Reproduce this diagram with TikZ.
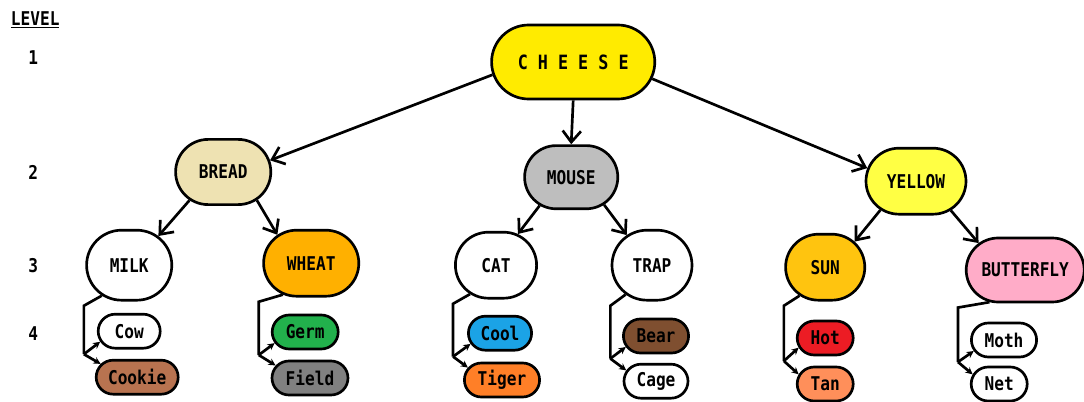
\documentclass[tikz,border=0pt]{standalone}
\usepackage{fontspec}
\usetikzlibrary{shapes.misc,arrows.meta,calc}
\newfontfamily\lbl{DejaVu Sans Mono}[FakeStretch=0.85]
\definecolor{cheeseC}{HTML}{FFEB00}
\definecolor{breadC}{HTML}{EEE2B2}
\definecolor{mouseC}{HTML}{BEBEBE}
\definecolor{yellowC}{HTML}{FFFF44}
\definecolor{wheatC}{HTML}{FFB000}
\definecolor{sunC}{HTML}{FFC40F}
\definecolor{flyC}{HTML}{FFACC8}
\definecolor{cookieC}{HTML}{B87350}
\definecolor{germC}{HTML}{22B14C}
\definecolor{fieldC}{HTML}{808080}
\definecolor{coolC}{HTML}{1BA3E6}
\definecolor{tigerC}{HTML}{FF7F27}
\definecolor{bearC}{HTML}{7F4F30}
\definecolor{hotC}{HTML}{EC1C24}
\definecolor{tanC}{HTML}{FF8F5A}

\begin{document}
\begin{tikzpicture}[x=1cm, y=-1cm,
    txt/.style={font=\lbl\bfseries\fontsize{13.5}{15}\selectfont},
    box/.style={txt, draw, rounded rectangle, line width=1.9pt, inner sep=0pt},
    leaf/.style={box, minimum height=0.85cm},
    down/.style={line width=1.9pt, -{Straight Barb[length=8pt,width=13pt]}},
    fork/.style={line width=1.9pt, -{Stealth[length=5pt,width=5pt]}}]
    \useasboundingbox (0,0) rectangle (27.1,10.05);
    % level column
    \node[txt] (lvl) at (0.88,0.5) {\underline{LEVEL}};
    \node[txt] (l1) at (0.83,1.45) {1};
    \node[txt] (l2) at (0.83,4.3) {2};
    \node[txt] (l3) at (0.83,6.63) {3};
    \node[txt] (l4) at (0.83,8.33) {4};
    % levels 1 and 2
    \node[box, fill=cheeseC, minimum width=4.08cm, minimum height=1.85cm] (cheese) at (14.33,1.55) {\fontsize{14}{16}\selectfont C H E E S E};
    \node[box, fill=breadC, minimum width=2.38cm, minimum height=1.63cm] (bread) at (5.58,4.3) {BREAD};
    \node[box, fill=mouseC, minimum width=2.33cm, minimum height=1.58cm] (mouse) at (14.28,4.43) {MOUSE};
    \node[box, fill=yellowC, minimum width=2.5cm, minimum height=1.65cm] (yellow) at (22.9,4.53) {YELLOW};
    % level 3
    \node[box, fill=white, minimum width=2.13cm, minimum height=1.75cm] (milk) at (3.23,6.63) {MILK};
    \node[box, fill=wheatC, minimum width=2.38cm, minimum height=1.65cm] (wheat) at (7.78,6.58) {WHEAT};
    \node[box, fill=white, minimum width=2.03cm, minimum height=1.65cm] (cat) at (12.4,6.63) {CAT};
    \node[box, fill=white, minimum width=2.0cm, minimum height=1.75cm] (trap) at (16.3,6.63) {TRAP};
    \node[box, fill=sunC, minimum width=1.98cm, minimum height=1.65cm] (sun) at (20.63,6.68) {SUN};
    \node[box, fill=flyC, minimum width=2.95cm, minimum height=1.6cm] (fly) at (25.63,6.75) {BUTTERFLY};
    % level 4
    \node[leaf, fill=white, minimum width=1.55cm] (cow) at (3.23,8.28) {Cow};
    \node[leaf, fill=cookieC, minimum width=2.05cm] (cookie) at (3.43,9.43) {Cookie};
    \node[leaf, fill=germC, minimum width=1.65cm] (germ) at (7.63,8.3) {Germ};
    \node[leaf, fill=fieldC, minimum width=1.9cm] (field) at (7.75,9.45) {Field};
    \node[leaf, fill=coolC, minimum width=1.58cm] (cool) at (12.5,8.33) {Cool};
    \node[leaf, fill=tigerC, minimum width=1.88cm] (tiger) at (12.55,9.5) {Tiger};
    \node[leaf, fill=bearC, minimum width=1.63cm] (bear) at (16.4,8.4) {Bear};
    \node[leaf, fill=white, minimum width=1.6cm] (cage) at (16.4,9.53) {Cage};
    \node[leaf, fill=hotC, minimum width=1.4cm] (hot) at (20.63,8.45) {Hot};
    \node[leaf, fill=tanC, minimum width=1.4cm] (tan) at (20.63,9.6) {Tan};
    \node[leaf, fill=white, minimum width=1.63cm] (moth) at (25.1,8.5) {Moth};
    \node[leaf, fill=white, minimum width=1.4cm] (net) at (24.98,9.6) {Net};
    % tree arrows
    \draw[down] (cheese.189) -- (bread.14);
    \draw[down] (cheese.south) -- (mouse.north);
    \draw[down] (cheese.-12) -- (yellow.165);
    \draw[down] (bread.220) -- (milk.45);
    \draw[down] (bread.-40) -- (wheat.140);
    \draw[down] (mouse.222) -- (cat.55);
    \draw[down] (mouse.-40) -- (trap.130);
    \draw[down] (yellow.219) -- (sun.41);
    \draw[down] (yellow.-40) -- (fly.150);
    % forks down to level 4
    \coordinate (mf) at ($(cow.west)!.5!(cookie.west)+(-0.3,0)$);
    \draw[line width=1.9pt] (milk.228) -- ([yshift=-3pt]mf |- milk.south) -- (mf);
    \draw[fork] (mf) -- (cow.200);
    \draw[fork] (mf) -- (cookie.160);
    \coordinate (wf) at ($(germ.west)!.5!(field.west)+(-0.3,0)$);
    \draw[line width=1.9pt] (wheat.228) -- ([yshift=-3pt]wf |- wheat.south) -- (wf);
    \draw[fork] (wf) -- (germ.200);
    \draw[fork] (wf) -- (field.160);
    \coordinate (cf) at ($(cool.west)!.5!(tiger.west)+(-0.3,0)$);
    \draw[line width=1.9pt] (cat.228) -- ([yshift=-3pt]cf |- cat.south) -- (cf);
    \draw[fork] (cf) -- (cool.200);
    \draw[fork] (cf) -- (tiger.160);
    \coordinate (tf) at ($(bear.west)!.5!(cage.west)+(-0.3,0)$);
    \draw[line width=1.9pt] (trap.228) -- ([yshift=-3pt]tf |- trap.south) -- (tf);
    \draw[fork] (tf) -- (bear.200);
    \draw[fork] (tf) -- (cage.160);
    \coordinate (sf) at ($(hot.west)!.5!(tan.west)+(-0.3,0)$);
    \draw[line width=1.9pt] (sun.228) -- ([yshift=-3pt]sf |- sun.south) -- (sf);
    \draw[fork] (sf) -- (hot.200);
    \draw[fork] (sf) -- (tan.160);
    \coordinate (bf) at ($(moth.west)!.5!(net.west)+(-0.3,0)$);
    \draw[line width=1.9pt] (fly.222) -- ([yshift=-3pt]bf |- fly.south) -- (bf);
    \draw[fork] (bf) -- (moth.200);
    \draw[fork] (bf) -- (net.160);
\end{tikzpicture}
\end{document}
